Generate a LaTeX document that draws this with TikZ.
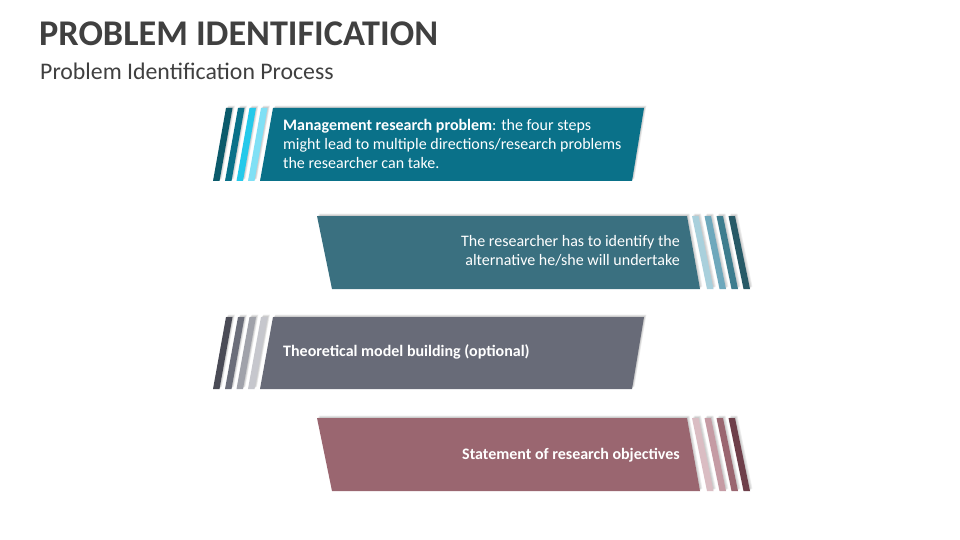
\documentclass[tikz,border=0pt]{standalone}
\usepackage{fontspec}
\setmainfont{Carlito}
\definecolor{titlegray}{HTML}{404040}
\definecolor{tealA}{HTML}{0A7189}
\definecolor{tealA1}{HTML}{0B5A6B}
\definecolor{tealA2}{HTML}{0A7189}
\definecolor{tealA3}{HTML}{25C9EA}
\definecolor{tealA4}{HTML}{80E0F5}
\definecolor{tealB}{HTML}{3A7080}
\definecolor{tealB1}{HTML}{A9D0DC}
\definecolor{tealB2}{HTML}{6EA8BC}
\definecolor{tealB3}{HTML}{3E7D8E}
\definecolor{tealB4}{HTML}{285A67}
\definecolor{slateC}{HTML}{686B78}
\definecolor{slateC1}{HTML}{4A4B56}
\definecolor{slateC2}{HTML}{6B6E7A}
\definecolor{slateC3}{HTML}{A0A2AA}
\definecolor{slateC4}{HTML}{C6C7CD}
\definecolor{roseD}{HTML}{9A6670}
\definecolor{roseD1}{HTML}{DABDC3}
\definecolor{roseD2}{HTML}{C59BA4}
\definecolor{roseD3}{HTML}{9A6670}
\definecolor{roseD4}{HTML}{6E3F4A}
\tikzset{
  softsh/.style={fill=black, opacity=0.07},
  boxtext/.style={text=white, font=\fontsize{16}{19}\selectfont, inner sep=0pt},
}
\newcommand{\softfill}[2]{%
  \foreach \s in {0.8,1.6,2.4}{\fill[softsh, shift={(\s,-\s)}] #2;}%
  \fill[#1] #2;}
\begin{document}
\begin{tikzpicture}[x=1pt,y=-1pt]
\useasboundingbox (0,0) rectangle (960,540);
\fill[white] (0,0) rectangle (960,540);
% title
\node[anchor=base west, inner sep=0pt, text=titlegray, font=\fontsize{36.2}{40}\selectfont\bfseries] (title) at (39,46) {PROBLEM IDENTIFICATION};
\node[anchor=base west, inner sep=0pt, text=titlegray, font=\fontsize{23.8}{26}\selectfont] (subtitle) at (40,80) {Problem Identification Process};

% ---------- box 1 (left stripes) ----------
\foreach \x/\c in {226/tealA1, 238/tealA2, 249.5/tealA3, 261/tealA4}
  {\softfill{\c}{(\x,108) -- (\x+6.5,108) -- (\x-6.5,181) -- (\x-13,181) -- cycle}}
\softfill{tealA}{(273,108) -- (644,108) -- (632,181) -- (260,181) -- cycle}
\node[boxtext, anchor=west, align=left] (t1) at (283,143.5)
  {\textbf{Management research problem}: the four steps\\might lead to multiple directions/research problems\\the researcher can take.};

% ---------- box 2 (right stripes) ----------
\softfill{tealB}{(317,216) -- (687,216) -- (700,289) -- (332,289) -- cycle}
\foreach \x/\c in {692/tealB1, 704.5/tealB2, 716.5/tealB3, 728.5/tealB4}
  {\softfill{\c}{(\x,216) -- (\x+6.5,216) -- (\x+21.5,289) -- (\x+15,289) -- cycle}}
\node[boxtext, anchor=east, align=right] (t2) at (680,251)
  {The researcher has to identify the\\alternative he/she will undertake};

% ---------- box 3 (left stripes) ----------
\foreach \x/\c in {226/slateC1, 238/slateC2, 249.5/slateC3, 261/slateC4}
  {\softfill{\c}{(\x,317) -- (\x+6.5,317) -- (\x-6.5,389) -- (\x-13,389) -- cycle}}
\softfill{slateC}{(273,317) -- (644,317) -- (632,389) -- (260,389) -- cycle}
\node[boxtext, anchor=west, align=left, font=\fontsize{16}{19}\selectfont\bfseries] (t3) at (283,352)
  {Theoretical model building (optional)};

% ---------- box 4 (right stripes) ----------
\softfill{roseD}{(317,418) -- (687,418) -- (700,491) -- (332,491) -- cycle}
\foreach \x/\c in {692/roseD1, 704.5/roseD2, 716.5/roseD3, 728.5/roseD4}
  {\softfill{\c}{(\x,418) -- (\x+6.5,418) -- (\x+21.5,491) -- (\x+15,491) -- cycle}}
\node[boxtext, anchor=east, align=right, font=\fontsize{16}{19}\selectfont\bfseries] (t4) at (680,455)
  {Statement of research objectives};
\end{tikzpicture}
\end{document}
